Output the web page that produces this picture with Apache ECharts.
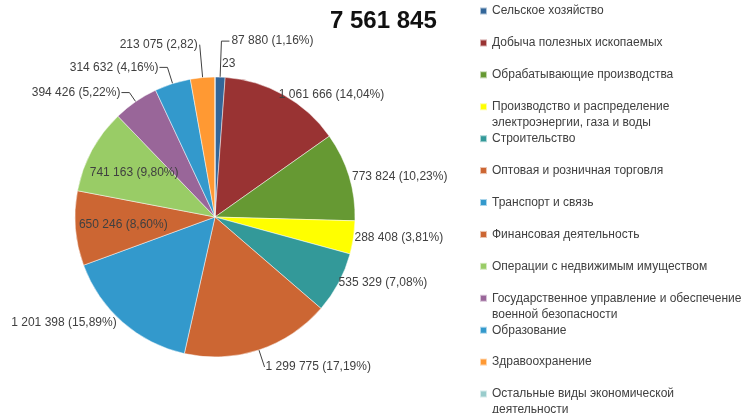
<!DOCTYPE html>
<html>
<head>
<meta charset="utf-8">
<script src="https://cdn.jsdelivr.net/npm/echarts@6/dist/echarts.min.js"></script>
<style>
	html, body { margin: 0; padding: 0; background: #fff; }
	#chart_box { width: 745px; height: 413px; }
</style>
</head>
<body>
<div id="chart_box"></div>
<script type="text/javascript">
// отрасли и объёмы
var categories = [
	'Сельское хозяйство',
	'Добыча полезных ископаемых',
	'Обрабатывающие производства',
	'Производство и распределение\nэлектроэнергии, газа и воды',
	'Строительство',
	'Оптовая и розничная торговля',
	'Транспорт и связь',
	'Финансовая деятельность',
	'Операции с недвижимым имуществом',
	'Государственное управление и обеспечение\nвоенной безопасности',
	'Образование',
	'Здравоохранение',
	'Остальные виды экономической\nдеятельности'
];
var values = [87880, 1061666, 773824, 288408, 535329, 1299775, 1201398, 650246, 741163, 394426, 314632, 213075, 23];
var colors = ['#336699', '#993333', '#669933', '#ffff00', '#339999', '#cc6633', '#3399cc',
	'#cc6633', '#99cc66', '#996699', '#3399cc', '#ff9933', '#99cccc'];

// как подписаны сектора в исходнике
var noPercent = ['Здравоохранение'];
var valueOnly = ['Остальные виды экономической\nдеятельности'];

// где стоят подписи: [position, length, length2, distance, line]
var labelPlace = [
	['outside', 36, 8, 2, true],
	['outside', 0, 0, -5, false],
	['outside', 0, 0, 3, false],
	['outside', 0, 0, 1, false],
	['outside', 0, 0, 0, false],
	['outside', 18, 0, 1, true],
	['outside', 0, 0, 6, false],
	['inside', 0, 0, 0, false],
	['inside', 0, 0, 0, false],
	['outside', 11, 8, 1, true],
	['outside', 17, 8, 1, true],
	['outside', 33, 0, 2, true],
	['outside', 13, 0, 0, false]
];

var total = values.reduce(function(a, b) { return a + b; }, 0);
function fmt(v) {
	return String(v).replace(/\B(?=(\d{3})+(?!\d))/g, ' ');
}

var cx = 215, cy = 217, radius = 140;
var font = 'Liberation Sans';

var series_data = categories.map(function(name, i) {
	var pl = labelPlace[i];
	return {
		name: name,
		value: values[i],
		itemStyle: { color: colors[i] },
		label: { position: pl[0], distanceToLabelLine: pl[3] },
		labelLine: { show: pl[4], length: pl[1], length2: pl[2] }
	};
});

// легенда как в Excel: одинаковый шаг, маркер у первой строки
var legends = categories.map(function(name, i) {
	var multi = name.indexOf('\n') >= 0;
	return {
		orient: 'vertical',
		left: 479,
		top: 3 + i * 31.92,
		padding: 0,
		itemWidth: 7,
		itemHeight: multi ? 23 : 7,
		icon: multi ? 'path://M0,0H7V7H0Z M0,22.95H0.05V23H0Z' : 'rect',
		selectedMode: false,
		textStyle: {
			fontFamily: font,
			fontSize: 12,
			color: '#404040',
			lineHeight: 16
		},
		data: [name]
	};
});

var myChart = echarts.init(document.getElementById('chart_box'));

var option = {
	animation: false,
	title: {
		text: fmt(total),
		left: 330,
		top: 9,
		padding: 0,
		textStyle: { fontFamily: font, fontSize: 24, fontWeight: 'bold', color: '#111' }
	},
	legend: legends,
	series: [
		{
			name: 'ВРП',
			type: 'pie',
			center: [cx, cy],
			radius: radius,
			startAngle: 90,
			clockwise: true,
			avoidLabelOverlap: false,
			emphasis: { scale: false },
			itemStyle: { borderColor: 'rgba(255,255,255,0.6)', borderWidth: 0.8 },
			label: {
				fontFamily: font,
				fontSize: 12,
				color: '#404040',
				formatter: function(p) {
					if (valueOnly.indexOf(p.name) >= 0) return fmt(p.value);
					var pct = (p.value / total * 100).toFixed(2).replace('.', ',');
					var tail = noPercent.indexOf(p.name) >= 0 ? '' : '%';
					return fmt(p.value) + ' (' + pct + tail + ')';
				}
			},
			labelLine: { lineStyle: { color: '#404040', width: 1 } },
			labelLayout: function(p) {
				var r = p.labelRect;
				var lx = r.x + r.width / 2, ly = r.y + r.height / 2;
				if (labelPlace[p.dataIndex][0] === 'inside') {
					var vx = lx - cx, vy = ly - cy;
					var k = 92 / Math.sqrt(vx * vx + vy * vy);
					return { x: cx + vx * k, y: cy + vy * k, align: 'center', verticalAlign: 'middle' };
				}
				if (p.dataIndex === values.length - 1) {
					return { x: cx + 7, y: ly, align: 'left', verticalAlign: 'middle' };
				}
				return {};
			},
			data: series_data
		}
	]
};
myChart.setOption(option);
</script>
</body>
</html>
